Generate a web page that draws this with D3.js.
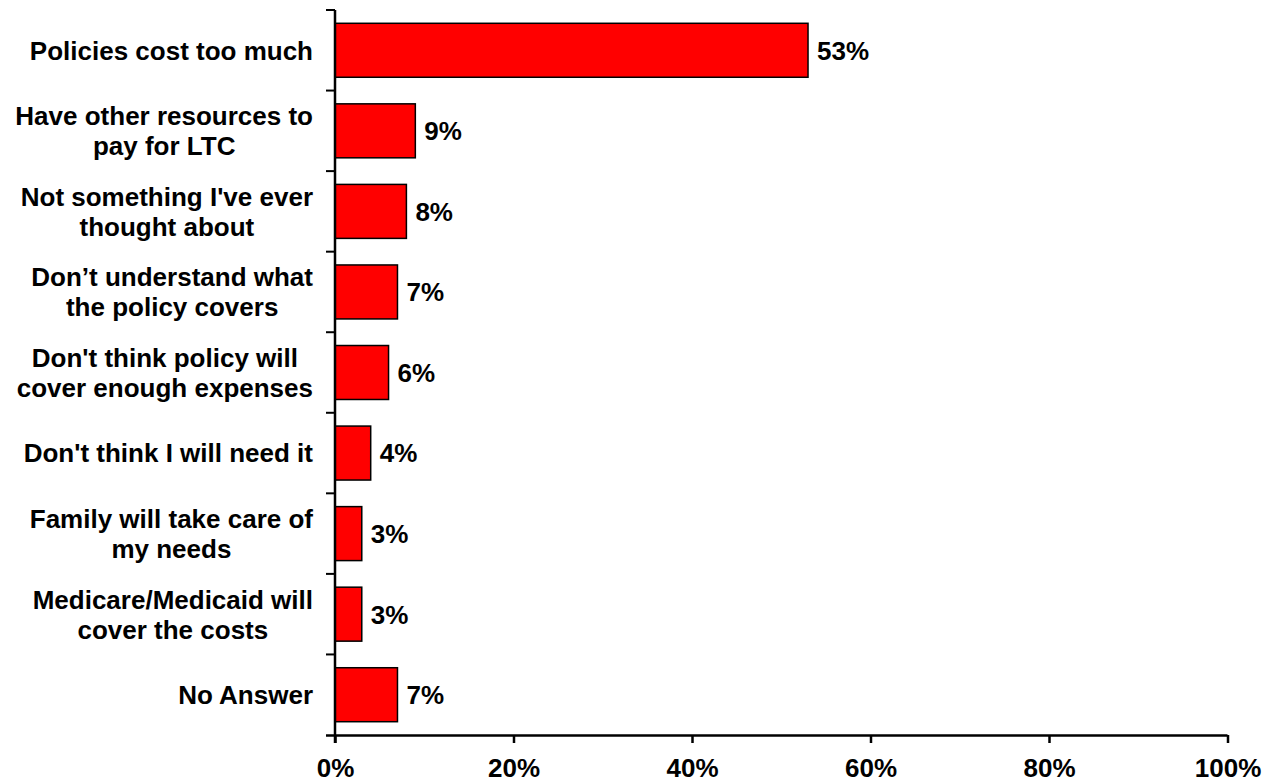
<!DOCTYPE html>
<html>
<head>
<meta charset="utf-8">
<script src="https://cdn.jsdelivr.net/npm/d3@7"></script>
<style>
  html, body { margin: 0; padding: 0; background: #fff; }
  svg { display: block; font-family: "Liberation Sans", Arial, sans-serif; font-weight: bold; }
</style>
</head>
<body>
<svg id="chart" width="1271" height="783"></svg>
<script>
// Reasons for not buying long-term care insurance
const categories = [
  ["Policies cost too much"],
  ["Have other resources to", "pay for LTC"],
  ["Not something I've ever", "thought about"],
  ["Don’t understand what", "the policy covers"],
  ["Don't think policy will", "cover enough expenses"],
  ["Don't think I will need it"],
  ["Family will take care of", "my needs"],
  ["Medicare/Medicaid will", "cover the costs"],
  ["No Answer"]
];
const values = [53, 9, 8, 7, 6, 4, 3, 3, 7];
const xTicks = [0, 20, 40, 60, 80, 100];

const svg = d3.select("#chart");
const plotLeft = 335, plotRight = 1227.5, plotTop = 10, plotBottom = 735;
const fontSize = 26;

const x = d3.scaleLinear().domain([0, 100]).range([plotLeft, plotRight]);
const y = d3.scaleBand().domain(d3.range(categories.length)).range([plotTop, plotBottom]).paddingInner(0.33).paddingOuter(0.165);
const yEdge = d3.scaleLinear().domain([0, categories.length]).range([plotTop, plotBottom]);

// bars
svg.append("g").selectAll("rect")
  .data(values)
  .join("rect")
  .attr("x", x(0))
  .attr("y", (d, i) => y(i))
  .attr("width", d => x(d) - x(0))
  .attr("height", y.bandwidth())
  .attr("fill", "#ff0000")
  .attr("stroke", "#000")
  .attr("stroke-width", 1.5);

// value labels
svg.append("g").selectAll("text")
  .data(values)
  .join("text")
  .attr("x", d => x(d) + 9)
  .attr("y", (d, i) => y(i) + y.bandwidth() / 2)
  .attr("dy", "0.36em")
  .attr("font-size", fontSize)
  .text(d => d + "%");

// x axis
const xAxis = svg.append("g")
  .attr("transform", `translate(0,${plotBottom})`)
  .call(d3.axisBottom(x).tickValues(xTicks).tickSize(8).tickPadding(16).tickFormat(d => d + "%"));
xAxis.select(".domain").attr("d", `M${plotLeft - 9},0.5H${plotRight}`).attr("stroke-width", 2.5);
xAxis.selectAll(".tick line").attr("stroke-width", 2.5);
xAxis.selectAll(".tick text").attr("font-size", fontSize).attr("font-weight", "bold").attr("font-family", "Liberation Sans, Arial, sans-serif").attr("fill", "#000");

// y axis line with category separators
const yAxis = svg.append("g");
yAxis.append("line")
  .attr("x1", plotLeft).attr("x2", plotLeft)
  .attr("y1", plotTop).attr("y2", plotBottom + 8)
  .attr("stroke", "#000").attr("stroke-width", 2.5);
yAxis.selectAll("line.sep")
  .data(d3.range(categories.length))
  .join("line")
  .attr("class", "sep")
  .attr("x1", plotLeft - 9).attr("x2", plotLeft)
  .attr("y1", d => yEdge(d)).attr("y2", d => yEdge(d))
  .attr("stroke", "#000").attr("stroke-width", 2);

// category labels: each block right-aligned at labelRight, lines centred within the block
const lineH = 30, labelRight = 313;
const labels = svg.append("g").selectAll("text")
  .data(categories)
  .join("text")
  .attr("text-anchor", "middle")
  .attr("font-size", fontSize)
  .attr("y", (d, i) => y(i) + y.bandwidth() / 2);
labels.selectAll("tspan")
  .data(d => d.map((t, j) => ({ t, j, n: d.length })))
  .join("tspan")
  .attr("dy", d => d.j === 0 ? (0.36 * fontSize - (d.n - 1) * lineH / 2) + "px" : lineH + "px")
  .text(d => d.t);
labels.each(function () {
  const spans = d3.select(this).selectAll("tspan");
  let maxW = 0;
  spans.each(function () { maxW = Math.max(maxW, this.getComputedTextLength()); });
  spans.attr("x", labelRight - maxW / 2);
});
</script>
</body>
</html>
